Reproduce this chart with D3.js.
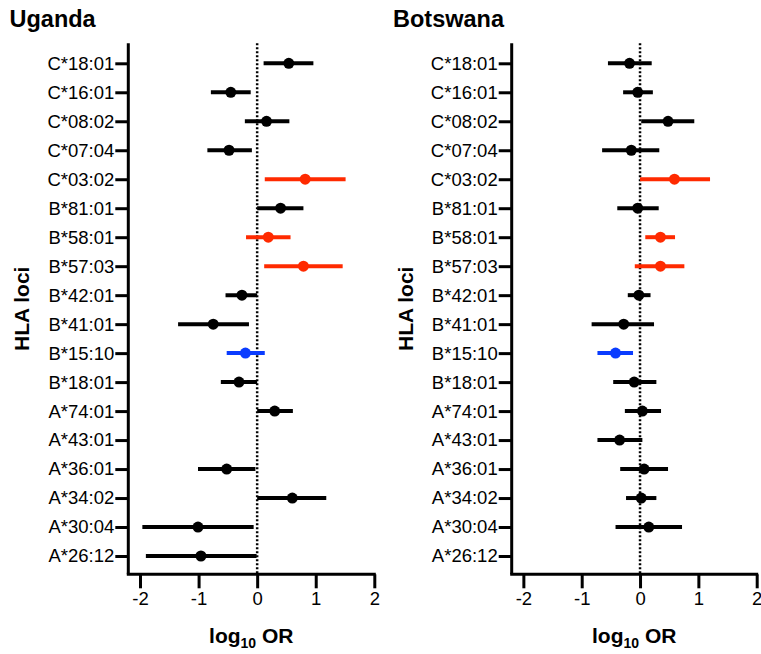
<!DOCTYPE html>
<html>
<head>
<meta charset="utf-8">
<script src="https://cdn.jsdelivr.net/npm/d3@7"></script>
<style>
  html, body { margin: 0; padding: 0; background: #fff; }
  svg { display: block; font-family: "Liberation Sans", Arial, Helvetica, sans-serif; }
</style>
</head>
<body>
<svg id="chart" width="761" height="654"></svg>
<script>
// HLA alleles, top to bottom
const alleles = ["C*18:01","C*16:01","C*08:02","C*07:04","C*03:02","B*81:01","B*58:01","B*57:03",
  "B*42:01","B*41:01","B*15:10","B*18:01","A*74:01","A*43:01","A*36:01","A*34:02","A*30:04","A*26:12"];

// association direction per allele: "risk" (red), "protect" (blue), "" (not significant)
const direction = ["","","","","risk","","risk","risk","","","protect","","","","","","",""];

// Uganda: log10 OR point estimate and 95% CI (null = not estimated)
const ugandaOR  = [0.54,-0.45,0.16,-0.48,0.82,0.40,0.19,0.79,-0.26,-0.75,-0.20,-0.31,0.30,null,-0.52,0.60,-1.01,-0.96];
const ugandaLow = [0.11,-0.79,-0.21,-0.85,0.13,0.00,-0.19,0.12,-0.54,-1.35,-0.52,-0.62,0.00,null,-1.01,0.00,-1.96,-1.90];
const ugandaHigh= [0.96,-0.11,0.55,-0.09,1.51,0.79,0.57,1.46,0.00,-0.14,0.13,0.00,0.61,null,-0.03,1.18,-0.06,-0.01];

// Botswana
const botswanaOR  = [-0.18,-0.04,0.48,-0.15,0.59,-0.04,0.35,0.35,-0.02,-0.28,-0.42,-0.10,0.04,-0.35,0.07,0.02,0.15,null];
const botswanaLow = [-0.55,-0.29,0.02,-0.65,0.00,-0.39,0.09,-0.09,-0.21,-0.83,-0.73,-0.46,-0.26,-0.73,-0.34,-0.24,-0.42,null];
const botswanaHigh= [0.20,0.22,0.93,0.33,1.20,0.32,0.60,0.76,0.18,0.24,-0.12,0.28,0.36,0.04,0.48,0.28,0.72,null];

const xTicks = [-2,-1,0,1,2];
const xDomain = [-2.2, 2];

const colorFor = { "risk": "#ff2a00", "protect": "#0a3cff", "": "#000000" };

const svg = d3.select("#chart");

function panel(opts) {
  const { title, titleX, left, right, est, lo, hi } = opts;
  const top = 43.3, bottom = 574.3;
  const g = svg.append("g");

  const x = d3.scaleLinear().domain(xDomain).range([left, right]);
  const y = d3.scalePoint().domain(alleles).range([63.3, 556]);

  // title
  g.append("text").attr("x", titleX).attr("y", 27)
    .attr("font-size", 23.5).attr("font-weight", "bold").text(title);

  // zero reference line
  g.append("line")
    .attr("x1", x(0)).attr("x2", x(0)).attr("y1", top).attr("y2", bottom)
    .attr("stroke", "#000").attr("stroke-width", 2.5).attr("stroke-dasharray", "2,2");

  // y axis
  const yAx = g.append("g").attr("transform", `translate(${left},0)`)
    .call(d3.axisLeft(y).tickSize(13).tickPadding(1).tickSizeOuter(0));
  yAx.select(".domain").attr("d", `M0,${top}V${bottom}`).attr("stroke-width", 3);
  yAx.selectAll(".tick line").attr("stroke-width", 3);
  yAx.selectAll(".tick text").attr("font-size", 18.5).attr("fill", "#000")
    .attr("font-family", "Liberation Sans, Arial, sans-serif");

  // x axis
  const xAx = g.append("g").attr("transform", `translate(0,${bottom})`)
    .call(d3.axisBottom(x).tickValues(xTicks).tickFormat(d3.format("d")).tickSize(14).tickPadding(4).tickSizeOuter(0));
  xAx.select(".domain").attr("d", `M${left - 1.5},0H${right + 1.5}`).attr("stroke-width", 3);
  xAx.selectAll(".tick line").attr("stroke-width", 3);
  xAx.selectAll(".tick text").attr("font-size", 18.5).attr("fill", "#000")
    .attr("font-family", "Liberation Sans, Arial, sans-serif")
    .text(d => d < 0 ? "-" + Math.abs(d) : d);

  // axis titles
  g.append("text")
    .attr("transform", `translate(${left - 99},${(top + bottom) / 2}) rotate(-90)`)
    .attr("text-anchor", "middle").attr("font-size", 21).attr("font-weight", "bold")
    .text("HLA loci");

  const xl = g.append("text")
    .attr("x", (left + right) / 2).attr("y", 643)
    .attr("text-anchor", "middle").attr("font-size", 21).attr("font-weight", "bold");
  xl.append("tspan").text("log");
  xl.append("tspan").attr("font-size", 14).attr("dy", 5).text("10");
  xl.append("tspan").attr("dy", -5).text(" OR");

  // estimates with confidence intervals
  const rows = alleles.map((a, i) => ({ a, est: est[i], lo: lo[i], hi: hi[i], c: colorFor[direction[i]] }))
    .filter(d => d.est !== null);

  g.selectAll("line.ci").data(rows).join("line").attr("class", "ci")
    .attr("x1", d => x(d.lo)).attr("x2", d => x(d.hi))
    .attr("y1", d => y(d.a)).attr("y2", d => y(d.a))
    .attr("stroke", d => d.c).attr("stroke-width", 4);

  g.selectAll("circle.pt").data(rows).join("circle").attr("class", "pt")
    .attr("cx", d => x(d.est)).attr("cy", d => y(d.a)).attr("r", 5.5)
    .attr("fill", d => d.c);
}

panel({ title: "Uganda", titleX: 9.5, left: 128.3, right: 374.3,
        est: ugandaOR, lo: ugandaLow, hi: ugandaHigh });
panel({ title: "Botswana", titleX: 393, left: 511.7, right: 756.7,
        est: botswanaOR, lo: botswanaLow, hi: botswanaHigh });
</script>
</body>
</html>
